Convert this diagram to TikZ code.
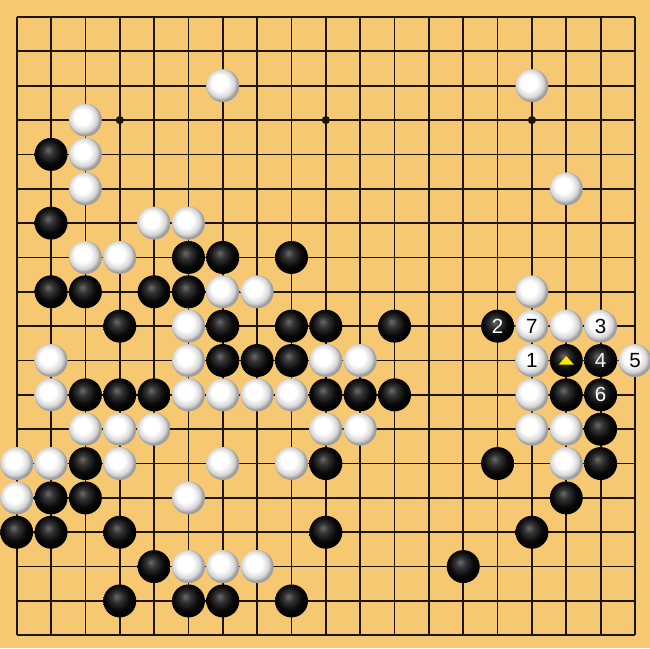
\documentclass[tikz,border=0pt]{standalone}
\usepackage{fontspec}
\setmainfont{Liberation Sans}
\definecolor{boardyellow}{RGB}{247,200,114}
\definecolor{gridline}{RGB}{30,20,6}
\definecolor{marker}{RGB}{255,232,0}
\pgfdeclareradialshading{whiteball}{\pgfpoint{-6bp}{6bp}}{color(0bp)=(white); color(12bp)=(white); color(21bp)=(black!16); color(25bp)=(black!38); color(50bp)=(black!38)}
\pgfdeclareradialshading{blackball}{\pgfpoint{-5bp}{7bp}}{color(0bp)=(black!58); color(8bp)=(black!80); color(18bp)=(black!96); color(25bp)=(black); color(50bp)=(black)}
\tikzset{
  stone/.style={circle,minimum size=0.96cm,inner sep=0pt,font=\fontsize{17}{17}\selectfont},
  wstone/.style={stone,shade,shading=whiteball,text=black},
  bstone/.style={stone,shade,shading=blackball,text=white},
}
\begin{document}
\begin{tikzpicture}[x=1cm,y=-1cm]
      \useasboundingbox (-0.486,-0.495) rectangle (18.437,18.378);
      \fill[boardyellow] (-0.486,-0.495) rectangle (18.437,18.378);
      \begin{scope}[gridline,line width=1.45pt]
        \foreach \i in {0,...,18} {
          \draw (\i,0) -- (\i,18);
          \draw (0,\i) -- (18,\i);
        }
        \fill (3,3) circle (0.12) (9,3) circle (0.12) (15,3) circle (0.12);
      \end{scope}
      % stones, row by row
      \path
        (6,2) node[wstone] (w1){} (15,2) node[wstone] (w2){}
        (2,3) node[wstone] (w3){}
        (1,4) node[bstone] (b1){} (2,4) node[wstone] (w4){}
        (2,5) node[wstone] (w5){} (16,5) node[wstone] (w6){}
        (1,6) node[bstone] (b2){} (4,6) node[wstone] (w7){} (5,6) node[wstone] (w8){}
        (2,7) node[wstone] (w9){} (3,7) node[wstone] (w10){} (5,7) node[bstone] (b3){}
        (6,7) node[bstone] (b4){} (8,7) node[bstone] (b5){}
        (1,8) node[bstone] (b6){} (2,8) node[bstone] (b7){} (4,8) node[bstone] (b8){}
        (5,8) node[bstone] (b9){} (6,8) node[wstone] (w11){} (7,8) node[wstone] (w12){}
        (15,8) node[wstone] (w13){}
        (3,9) node[bstone] (b10){} (5,9) node[wstone] (w14){} (6,9) node[bstone] (b11){}
        (8,9) node[bstone] (b12){} (9,9) node[bstone] (b13){} (11,9) node[bstone] (b14){}
        (16,9) node[wstone] (w15){}
        (1,10) node[wstone] (w16){} (5,10) node[wstone] (w17){} (6,10) node[bstone] (b15){}
        (7,10) node[bstone] (b16){} (8,10) node[bstone] (b17){} (9,10) node[wstone] (w18){}
        (10,10) node[wstone] (w19){}
        (1,11) node[wstone] (w20){} (2,11) node[bstone] (b18){} (3,11) node[bstone] (b19){}
        (4,11) node[bstone] (b20){} (5,11) node[wstone] (w21){} (6,11) node[wstone] (w22){}
        (7,11) node[wstone] (w23){} (8,11) node[wstone] (w24){} (9,11) node[bstone] (b21){}
        (10,11) node[bstone] (b22){} (11,11) node[bstone] (b23){} (15,11) node[wstone] (w25){}
        (16,11) node[bstone] (b24){}
        (2,12) node[wstone] (w26){} (3,12) node[wstone] (w27){} (4,12) node[wstone] (w28){}
        (9,12) node[wstone] (w29){} (10,12) node[wstone] (w30){} (15,12) node[wstone] (w31){}
        (16,12) node[wstone] (w32){} (17,12) node[bstone] (b25){}
        (0,13) node[wstone] (w33){} (1,13) node[wstone] (w34){} (2,13) node[bstone] (b26){}
        (3,13) node[wstone] (w35){} (6,13) node[wstone] (w36){} (8,13) node[wstone] (w37){}
        (9,13) node[bstone] (b27){} (14,13) node[bstone] (b28){} (16,13) node[wstone] (w38){}
        (17,13) node[bstone] (b29){}
        (0,14) node[wstone] (w39){} (1,14) node[bstone] (b30){} (2,14) node[bstone] (b31){}
        (5,14) node[wstone] (w40){} (16,14) node[bstone] (b32){}
        (0,15) node[bstone] (b33){} (1,15) node[bstone] (b34){} (3,15) node[bstone] (b35){}
        (9,15) node[bstone] (b36){} (15,15) node[bstone] (b37){}
        (4,16) node[bstone] (b38){} (5,16) node[wstone] (w41){} (6,16) node[wstone] (w42){}
        (7,16) node[wstone] (w43){} (13,16) node[bstone] (b39){}
        (3,17) node[bstone] (b40){} (5,17) node[bstone] (b41){} (6,17) node[bstone] (b42){}
        (8,17) node[bstone] (b43){};
      % numbered moves
      \path
        (15,10) node[wstone] (m1){1}
        (14,9) node[bstone] (m2){2}
        (17,9) node[wstone] (m3){3}
        (17,10) node[bstone] (m4){4}
        (18,10) node[wstone] (m5){5}
        (17,11) node[bstone] (m6){6}
        (15,9) node[wstone] (m7){7}
        (16,10) node[bstone] (mark){};
      \fill[marker] ([shift={(-0.22,0.12)}]mark.center) -- ([shift={(0.22,0.12)}]mark.center)
        -- ([shift={(0,-0.13)}]mark.center) -- cycle;
    \end{tikzpicture}
\end{document}
